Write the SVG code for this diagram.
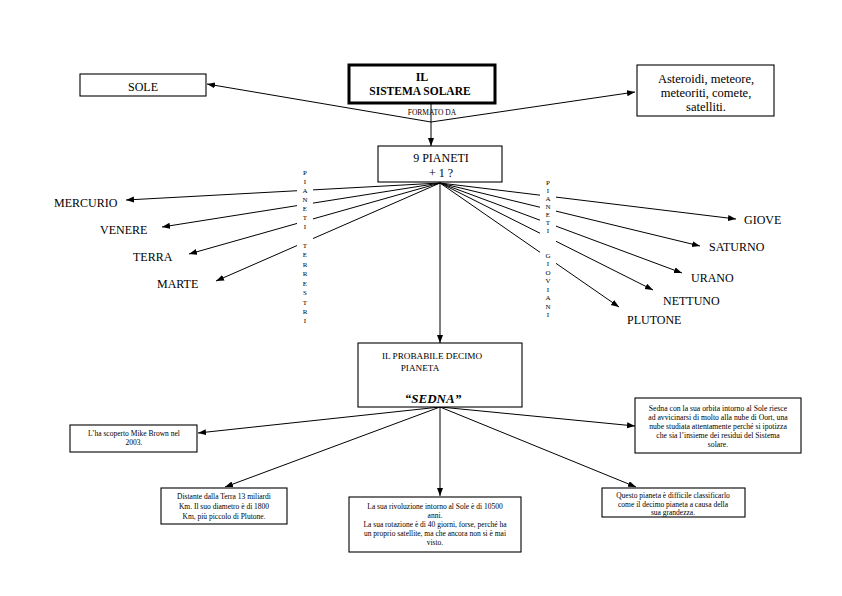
<svg xmlns="http://www.w3.org/2000/svg" width="842" height="596" viewBox="0 0 842 596">
<style>
.t{font-family:"Liberation Serif","Times New Roman",serif;fill:#000}
.box{fill:#fff;stroke:#000;stroke-width:1.1}
.ln{stroke:#000;stroke-width:1;fill:none;marker-end:url(#ah)}
.v{font-family:"Liberation Serif","Times New Roman",serif;font-size:7px;text-anchor:middle;fill:#000}
.p{font-size:12px}
.s{font-size:7.5px;text-anchor:middle}
</style>
<defs>
<marker id="ah" markerUnits="userSpaceOnUse" markerWidth="9" markerHeight="7" refX="8" refY="3" orient="auto">
<path d="M0,0 L8,3 L0,6 z" fill="#000"/>
</marker>
</defs>
<rect width="842" height="596" fill="#fff"/>

<g id="connectors">
<line class="ln" x1="431" y1="103" x2="431" y2="146"/>
<line class="ln" x1="431" y1="122" x2="207" y2="84"/>
<line class="ln" x1="431" y1="122" x2="635" y2="92"/>
<line class="ln" x1="440" y1="183" x2="126" y2="200"/>
<line class="ln" x1="440" y1="183" x2="162" y2="227"/>
<line class="ln" x1="440" y1="183" x2="189" y2="254"/>
<line class="ln" x1="440" y1="183" x2="216" y2="281"/>
<line class="ln" x1="440" y1="183" x2="736" y2="219"/>
<line class="ln" x1="440" y1="183" x2="700" y2="246"/>
<line class="ln" x1="440" y1="183" x2="682" y2="273"/>
<line class="ln" x1="440" y1="183" x2="653" y2="290"/>
<line class="ln" x1="440" y1="183" x2="619" y2="307"/>
<line class="ln" x1="440" y1="183" x2="440" y2="343"/>
<line class="ln" x1="440" y1="407" x2="198" y2="433"/>
<line class="ln" x1="440" y1="407" x2="225" y2="487"/>
<line class="ln" x1="440" y1="407" x2="440" y2="496"/>
<line class="ln" x1="440" y1="407" x2="636" y2="487"/>
<line class="ln" x1="440" y1="407" x2="635" y2="426"/>
</g>

<g id="pianeti-terrestri">
<rect x="297" y="166" width="16" height="160" fill="#fff"/>
<text class="v" x="305" y="174.5">P</text>
<text class="v" x="305" y="183.5">I</text>
<text class="v" x="305" y="192.5">A</text>
<text class="v" x="305" y="202">N</text>
<text class="v" x="305" y="211">E</text>
<text class="v" x="305" y="220">T</text>
<text class="v" x="305" y="229">I</text>
<text class="v" x="305" y="247.5">T</text>
<text class="v" x="305" y="257">E</text>
<text class="v" x="305" y="266.5">R</text>
<text class="v" x="305" y="276">R</text>
<text class="v" x="305" y="285.5">E</text>
<text class="v" x="305" y="295">S</text>
<text class="v" x="305" y="304.5">T</text>
<text class="v" x="305" y="313.5">R</text>
<text class="v" x="305" y="322.5">I</text>
</g>

<g id="pianeti-gioviani">
<rect x="540" y="175" width="16" height="150" fill="#fff"/>
<text class="v" x="548" y="184.5">P</text>
<text class="v" x="548" y="192.5">I</text>
<text class="v" x="548" y="200.5">A</text>
<text class="v" x="548" y="208.5">N</text>
<text class="v" x="548" y="216.5">E</text>
<text class="v" x="548" y="224.5">T</text>
<text class="v" x="548" y="232.5">I</text>
<text class="v" x="548" y="257.5">G</text>
<text class="v" x="548" y="266">I</text>
<text class="v" x="548" y="274.5">O</text>
<text class="v" x="548" y="283">V</text>
<text class="v" x="548" y="291.5">I</text>
<text class="v" x="548" y="300">A</text>
<text class="v" x="548" y="308.5">N</text>
<text class="v" x="548" y="317">I</text>
</g>

<g id="sole">
<rect class="box" x="80" y="74" width="126" height="22"/>
<text class="t p" x="143" y="91" text-anchor="middle">SOLE</text>
</g>

<g id="sistema-solare">
<rect x="349" y="65" width="146" height="38" fill="#fff" stroke="#000" stroke-width="3"/>
<text class="t" x="422" y="81" font-size="12" font-weight="bold" text-anchor="middle">IL</text>
<text class="t" x="420" y="95" font-size="11.5" font-weight="bold" text-anchor="middle">SISTEMA SOLARE</text>
</g>
<text id="formato-da" class="t" x="432" y="115" font-size="7.5" text-anchor="middle">FORMATO DA</text>

<g id="asteroidi">
<rect class="box" x="637" y="65" width="137" height="51"/>
<text class="t" x="706" y="83" font-size="12.5" text-anchor="middle">Asteroidi, meteore,</text>
<text class="t" x="706" y="97" font-size="12.5" text-anchor="middle">meteoriti, comete,</text>
<text class="t" x="706" y="111" font-size="12.5" text-anchor="middle">satelliti.</text>
</g>

<g id="nove-pianeti">
<rect class="box" x="378" y="146" width="124" height="36"/>
<text class="t p" x="441" y="162" text-anchor="middle">9 PIANETI</text>
<text class="t p" x="441" y="177" text-anchor="middle">+ 1 ?</text>
</g>

<g id="mercurio"><text class="t p" x="54" y="207">MERCURIO</text></g>
<g id="venere"><text class="t p" x="100" y="234">VENERE</text></g>
<g id="terra"><text class="t p" x="133" y="261">TERRA</text></g>
<g id="marte"><text class="t p" x="157" y="288">MARTE</text></g>

<g id="giove"><text class="t p" x="744" y="224">GIOVE</text></g>
<g id="saturno"><text class="t p" x="709" y="251">SATURNO</text></g>
<g id="urano"><text class="t p" x="691" y="282">URANO</text></g>
<g id="nettuno"><text class="t p" x="663" y="305">NETTUNO</text></g>
<g id="plutone"><text class="t p" x="627" y="324">PLUTONE</text></g>

<g id="sedna">
<rect class="box" x="358" y="343" width="164" height="64"/>
<text class="t" x="432" y="359" font-size="9.2" text-anchor="middle">IL PROBABILE DECIMO</text>
<text class="t" x="420" y="371" font-size="9.2" text-anchor="middle">PIANETA</text>
<text class="t" x="433" y="403" font-size="13" font-weight="bold" font-style="italic" text-anchor="middle">“SEDNA”</text>
</g>

<g id="scoperto">
<rect class="box" x="70" y="425" width="127" height="27"/>
<text class="t s" x="134" y="436">L’ha scoperto Mike Brown nel</text>
<text class="t s" x="134" y="445">2003.</text>
</g>

<g id="distante">
<rect class="box" x="161" y="488" width="126" height="36"/>
<text class="t s" x="224" y="499">Distante dalla Terra 13 miliardi</text>
<text class="t s" x="224" y="509">Km. Il suo diametro è di 1800</text>
<text class="t s" x="224" y="519">Km, più piccolo di Plutone.</text>
</g>

<g id="rivoluzione">
<rect class="box" x="349" y="497" width="172" height="55"/>
<text class="t s" x="435" y="509">La sua rivoluzione intorno al Sole è di 10500</text>
<text class="t s" x="435" y="518">anni.</text>
<text class="t s" x="435" y="527">La sua rotazione è di 40 giorni, forse, perché ha</text>
<text class="t s" x="435" y="536">un proprio satellite, ma che ancora non si è mai</text>
<text class="t s" x="435" y="545">visto.</text>
</g>

<g id="classificare">
<rect class="box" x="602" y="488" width="143" height="29"/>
<text class="t s" x="673" y="498">Questo pianeta è difficile classificarlo</text>
<text class="t s" x="673" y="506.5">come il decimo pianeta a causa della</text>
<text class="t s" x="673" y="515">sua grandezza.</text>
</g>

<g id="oort">
<rect class="box" x="635" y="398" width="166" height="55"/>
<text class="t" x="718" y="411" font-size="7.7" text-anchor="middle">Sedna con la sua orbita intorno al Sole riesce</text>
<text class="t" x="718" y="420" font-size="7.7" text-anchor="middle">ad avvicinarsi di molto alla nube di Oort, una</text>
<text class="t" x="718" y="429" font-size="7.7" text-anchor="middle">nube studiata attentamente perché si ipotizza</text>
<text class="t" x="718" y="438" font-size="7.7" text-anchor="middle">che sia l’insieme dei residui del Sistema</text>
<text class="t" x="718" y="447" font-size="7.7" text-anchor="middle">solare.</text>
</g>
</svg>
